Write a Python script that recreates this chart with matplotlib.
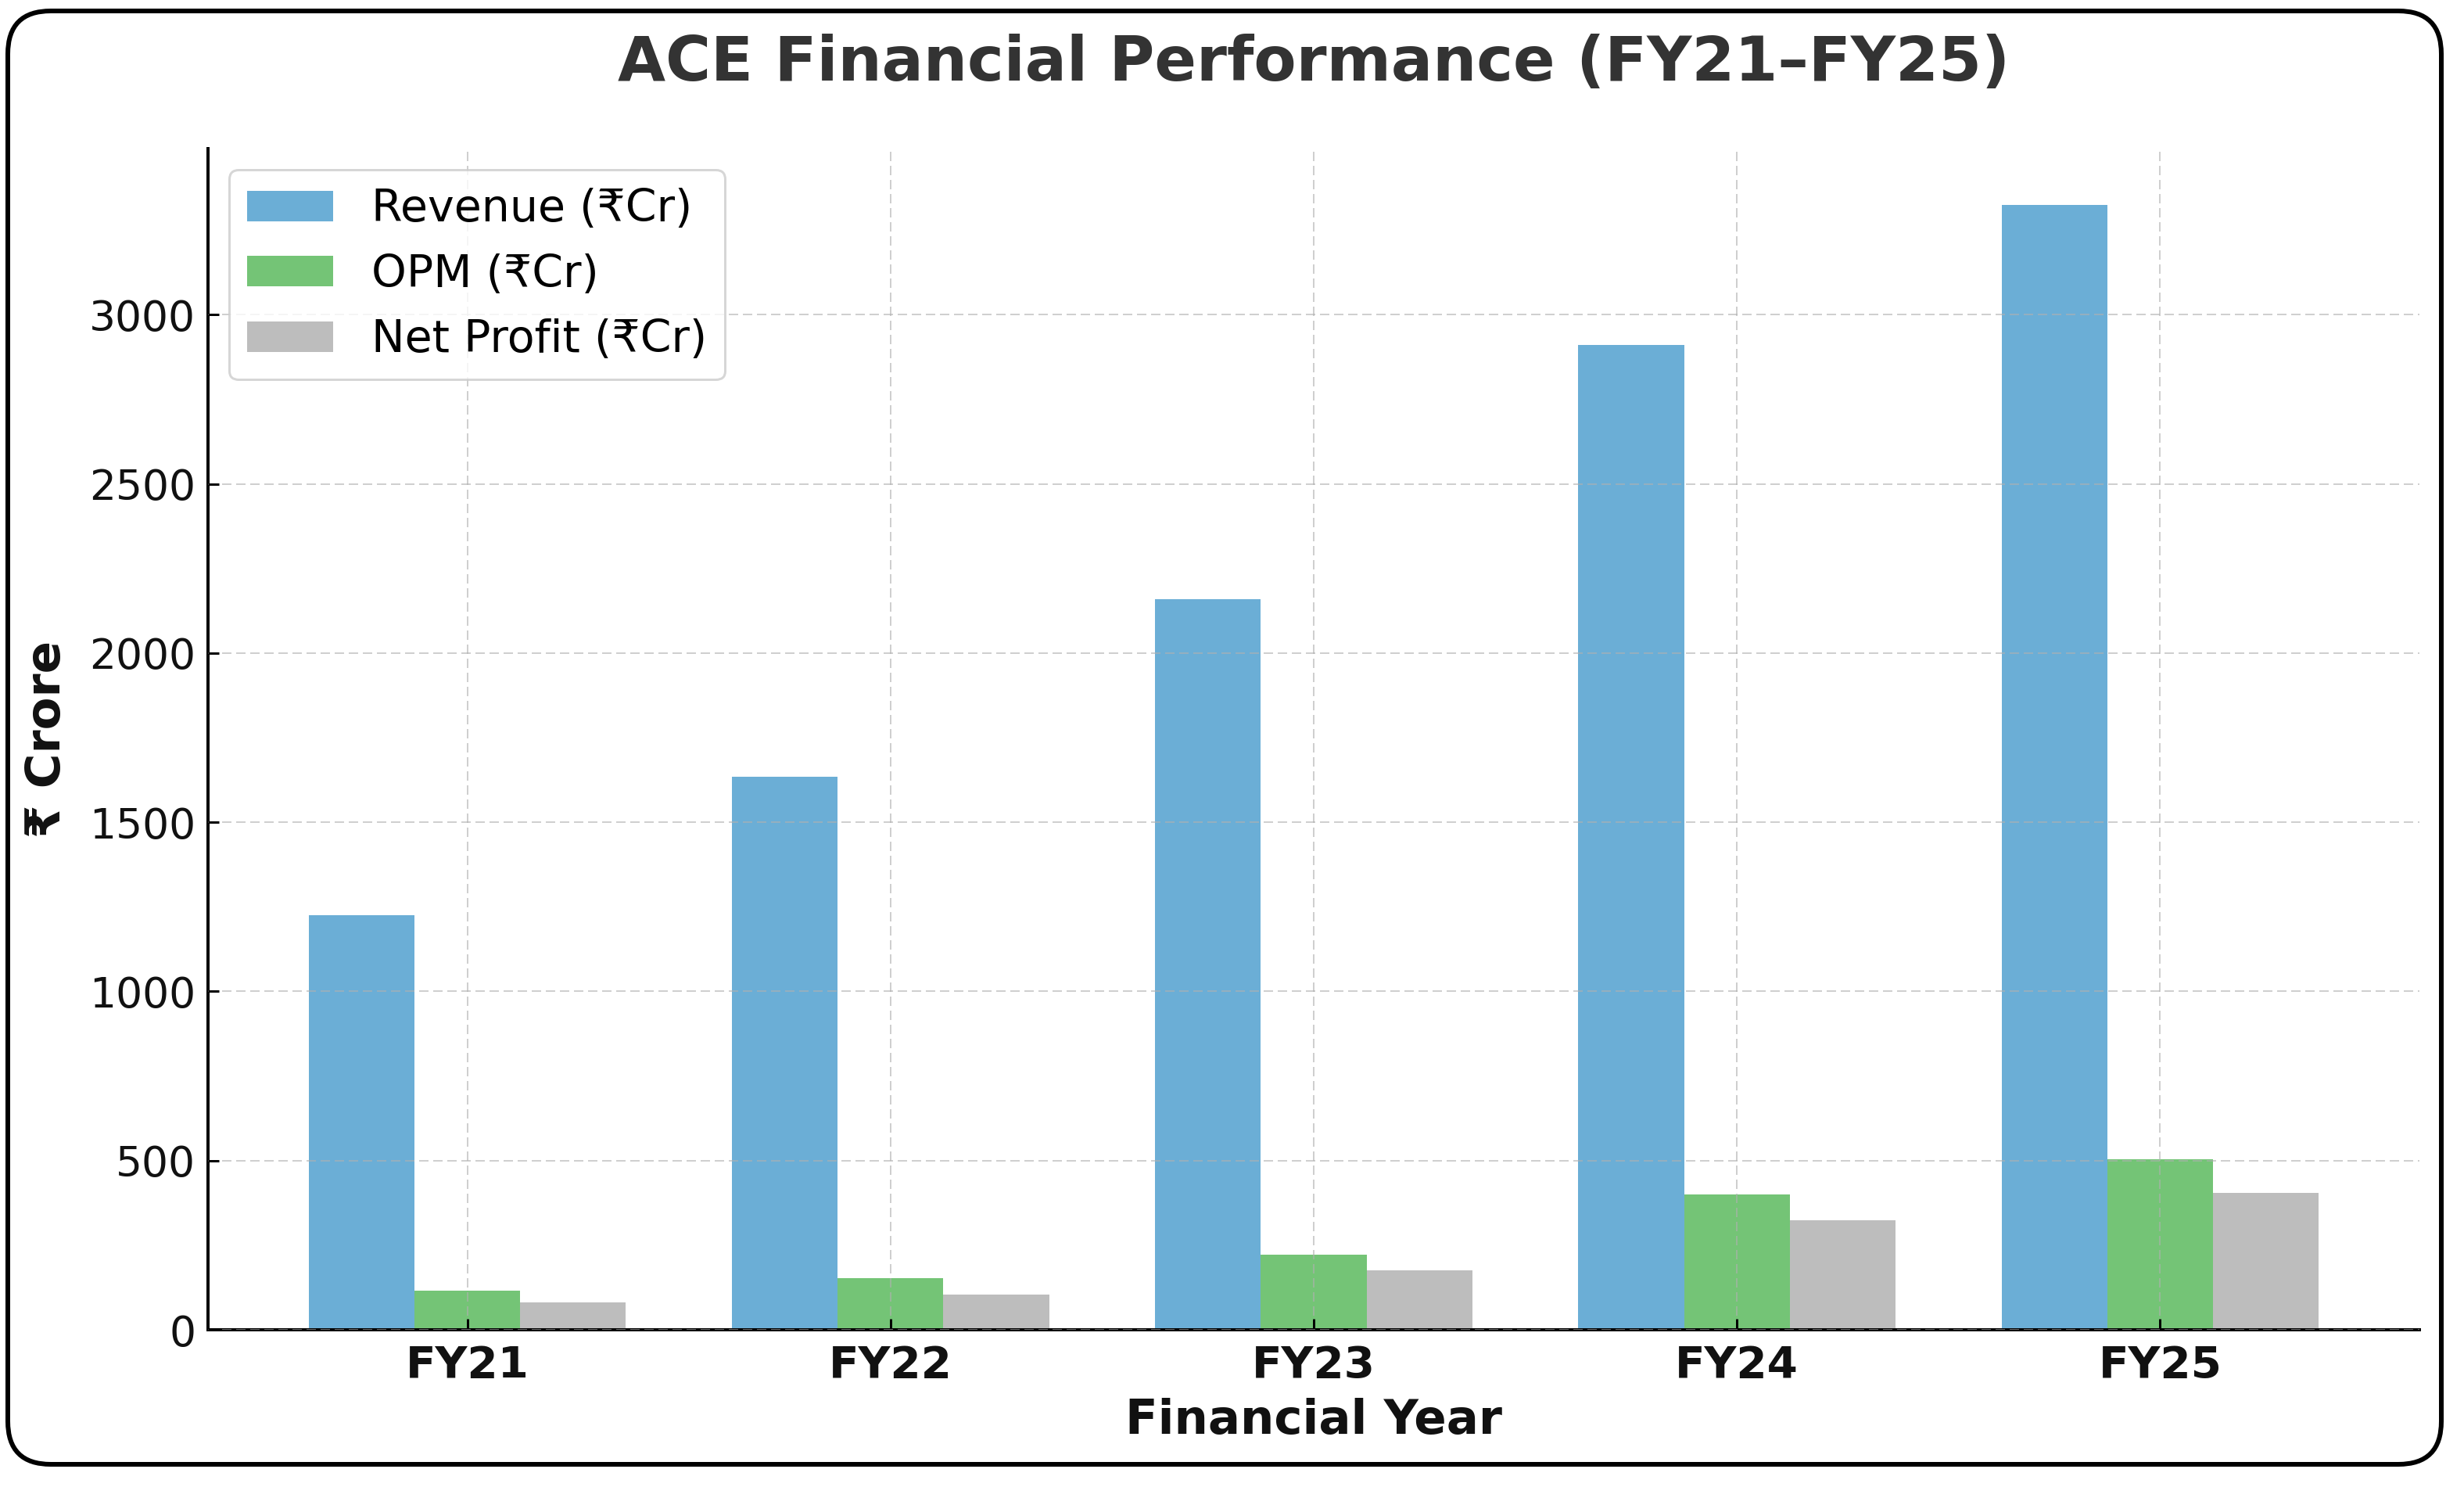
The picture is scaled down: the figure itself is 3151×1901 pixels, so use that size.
import matplotlib
matplotlib.use("Agg")
import matplotlib.pyplot as plt
from matplotlib.patches import FancyBboxPatch
import numpy as np

# ---- data ----
years = ["FY21", "FY22", "FY23", "FY24", "FY25"]
revenue = [1225, 1635, 2160, 2910, 3325]
opm = [115, 152, 222, 400, 505]
net_profit = [80, 105, 175, 323, 405]
series_labels = ["Revenue (₹Cr)", "OPM (₹Cr)", "Net Profit (₹Cr)"]
series_colors = ["#6baed6", "#74c476", "#bdbdbd"]
title = "ACE Financial Performance (FY21–FY25)"
xlabel = "Financial Year"
ylabel = "₹ Crore"

W, H, DPI = 3151, 1901, 100
P = 72.0 / DPI  # px -> pt

plt.rcParams['font.family'] = ['DejaVu Sans']

fig = plt.figure(figsize=(W / DPI, H / DPI), dpi=DPI)
fig.patch.set_facecolor("white")

ax = fig.add_axes([266 / W, 1 - 1700 / H, (3094 - 266) / W, (1700 - 190) / H])

x = np.arange(len(years))
bw = 0.25
for i, (vals, lab, col) in enumerate(zip([revenue, opm, net_profit], series_labels, series_colors)):
    ax.bar(x + (i - 1) * bw, vals, width=bw, color=col, label=lab, linewidth=0)

ax.set_xticks(x)
ax.set_xticklabels(years, fontsize=56.5 * P, fontweight="bold", color="#111111")
ax.tick_params(axis="y", labelsize=53.5 * P, labelcolor="#111111")
ax.tick_params(axis="both", direction="in", length=14 * P, width=3 * P, color="black")
ax.tick_params(axis="x", pad=19 * P)
ax.tick_params(axis="y", pad=16 * P)

for s in ["top", "right"]:
    ax.spines[s].set_visible(False)
for s in ["left", "bottom"]:
    ax.spines[s].set_linewidth(4 * P)
    ax.spines[s].set_color("black")

ax.set_axisbelow(False)
ax.grid(True, which="major", axis="both", color="#b0b0b0", alpha=0.6,
        linewidth=2 * P, linestyle=(0, (6, 3)))

ax.set_title(title, fontsize=79 * P, fontweight="bold", color="#333333", pad=87 * P)
ax.set_xlabel(xlabel, fontsize=61 * P, fontweight="bold", color="#111111", labelpad=14 * P)
ax.set_ylabel(ylabel, fontsize=61 * P, fontweight="bold", color="#111111", labelpad=24 * P)

leg_fs = 57.0
leg = ax.legend(loc="upper left", fontsize=leg_fs * P, frameon=True, fancybox=True,
                handlelength=2.0 * 55 / leg_fs, handleheight=0.7 * 55 / leg_fs,
                handletextpad=0.85, borderaxespad=0.48)
leg.get_frame().set_linewidth(3 * P)
leg.get_frame().set_edgecolor("#cccccc")

# outer rounded border
border = FancyBboxPatch((10 / DPI, (H - 1872) / DPI), (3122 - 10) / DPI, (1872 - 14) / DPI,
                        boxstyle="round,pad=0,rounding_size=0.55",
                        transform=fig.dpi_scale_trans, facecolor="none",
                        edgecolor="black", linewidth=6 * P, zorder=10)
fig.patches.append(border)

fig.savefig("out.png", dpi=DPI)
